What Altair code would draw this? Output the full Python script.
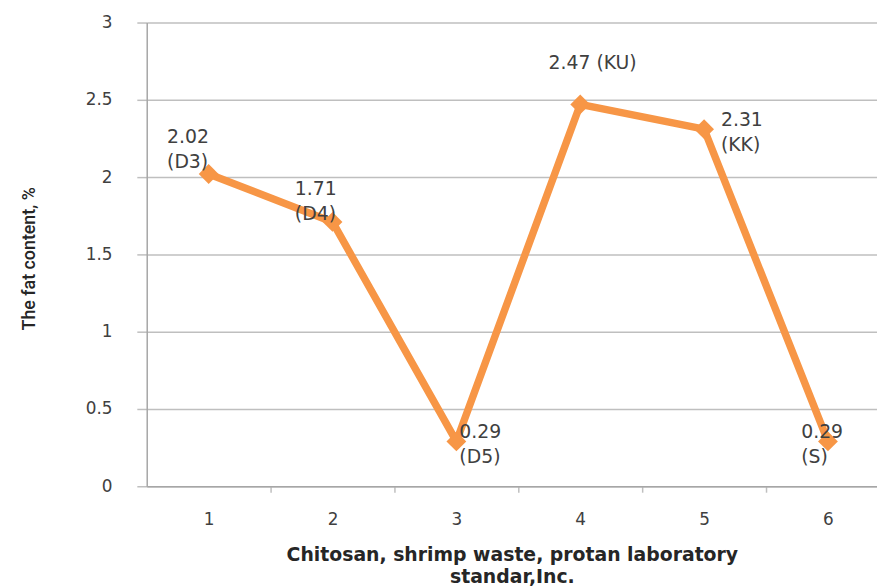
import altair as alt
import pandas as pd

categories = [1, 2, 3, 4, 5, 6]
values = [2.02, 1.71, 0.29, 2.47, 2.31, 0.29]
codes = ["D3", "D4", "D5", "KU", "KK", "S"]
single_line = [False, False, False, True, False, False]
y_ticks = [0, 0.5, 1, 1.5, 2, 2.5, 3]
x_tick_values = [1, 1.5, 2, 2.5, 3, 3.5, 4, 4.5, 5, 5.5, 6]

labels = []
for v, c, s in zip(values, codes, single_line):
    sep = " " if s else "\n"
    labels.append(f"{v:.2f}{sep}({c})")

df = pd.DataFrame({"cat": categories, "val": values, "label": labels})

W, H = 737, 468
ORANGE = "#F79646"
GRID = "#BFBFBF"
TXT = "#404040"

xscale = alt.Scale(domain=[0.5, 0.5 + W / 125], nice=False, zero=False)
yscale = alt.Scale(domain=[0, 3], nice=False)

x_enc = alt.X(
    "cat:Q",
    scale=xscale,
    axis=alt.Axis(
        values=x_tick_values,
        format="~g",
        labelExpr="datum.value % 1 == 0 ? datum.label : ''",
        tickOpacity=alt.ExprRef("datum.value % 1 == 0 ? 0 : 1"),
        grid=False,
        tickSize=6,
        tickColor=GRID,
        tickWidth=1.5,
        domainColor="#A6A6A6",
        domainWidth=1.5,
        labelFont="DejaVu Sans",
        labelFontSize=17,
        labelColor=TXT,
        labelPadding=20,
        title=["Chitosan, shrimp waste, protan laboratory", "standar,Inc."],
        titleFont="DejaVu Sans",
        titleFontSize=19,
        titleFontWeight="bold",
        titleColor="#262626",
        titleBaseline="alphabetic",
        titleY=75,
        titleLineHeight=22,
    ),
)
y_enc = alt.Y(
    "val:Q",
    scale=yscale,
    axis=alt.Axis(
        values=y_ticks,
        format="~g",
        grid=True,
        gridColor=GRID,
        gridWidth=1.5,
        tickSize=10,
        tickColor=GRID,
        tickWidth=1.5,
        domainColor="#A6A6A6",
        domainWidth=1.5,
        labelFont="DejaVu Sans",
        labelFontSize=17,
        labelColor=TXT,
        labelPadding=25,
        title="The fat content, %",
        titleFont="Roboto",
        titleFontSize=18,
        titleFontWeight=500,
        titleColor="#262626",
        titleAngle=270,
        titleAlign="center",
        titleBaseline="middle",
        titleX=-118,
        titleY=238,
    ),
)

base = alt.Chart(df)
line = base.mark_line(color=ORANGE, strokeWidth=7.5, strokeJoin="round").encode(x=x_enc, y=y_enc)
pts = base.mark_point(shape="diamond", filled=True, color=ORANGE, size=400, opacity=1).encode(x="cat:Q", y="val:Q")

# label placement (dx of left edge, dy of first-line baseline) per point
offsets = {1: (-42, -31), 2: (-38, -27), 3: (3, -3), 4: (-32, -36), 5: (17, -3), 6: (-27, -3)}
text_layers = []
for c in categories:
    dx, dy = offsets[c]
    text_layers.append(
        base.transform_filter(alt.datum.cat == c)
        .mark_text(
            align="left",
            baseline="alphabetic",
            dx=dx,
            dy=dy,
            lineBreak="\n",
            lineHeight=25,
            font="DejaVu Sans",
            fontSize=19,
            color=TXT,
        )
        .encode(x="cat:Q", y="val:Q", text="label:N")
    )

chart = (
    alt.layer(line, pts, *text_layers)
    .properties(
        width=W,
        height=H,
        autosize=alt.AutoSizeParams(type="none"),
        padding={"left": 140, "top": 12, "right": 0, "bottom": 100},
        background="white",
    )
    .configure_view(stroke=None)
)

chart.save("out.html", embed_options={"renderer": "svg", "actions": False})
